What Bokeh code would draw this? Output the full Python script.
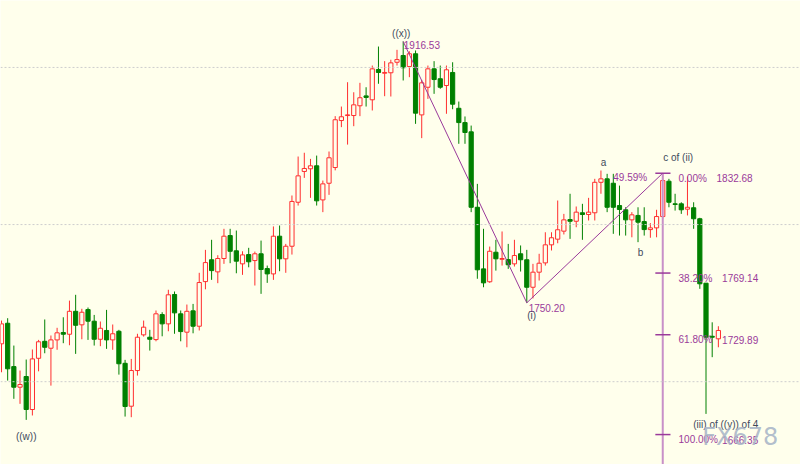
from bokeh.plotting import figure
from bokeh.models import Range1d, Span, ColumnDataSource
from bokeh.embed import file_html
from bokeh.resources import INLINE
from bokeh.core.properties import value

# Daily OHLC prices, oldest first
opens = [1724.1, 1737.2, 1709.6, 1696.5, 1703.3, 1682.3, 1714.9, 1725.7, 1721.3, 1726.6,
         1731.3, 1730.2, 1744.8, 1736.2, 1745.9, 1738.5, 1727.0, 1732.6, 1726.6, 1732.1,
         1711.7, 1684.4, 1707.1, 1729.8, 1728.3, 1726.8, 1742.7, 1736.8, 1755.5, 1743.2,
         1731.5, 1745.1, 1735.3, 1763.7, 1777.6, 1769.9, 1778.4, 1793.0, 1783.3, 1775.0,
         1780.9, 1777.1, 1781.4, 1772.0, 1768.6, 1792.6, 1778.2, 1786.2, 1814.2, 1833.8,
         1835.5, 1837.4, 1815.7, 1826.3, 1836.3, 1866.2, 1869.4, 1869.4, 1875.6, 1881.9,
         1879.4, 1898.7, 1896.3, 1896.6, 1903.3, 1907.6, 1900.6, 1908.7, 1869.8, 1887.4,
         1899.1, 1892.8, 1888.5, 1896.8, 1874.0, 1864.9, 1859.0, 1811.0, 1771.8, 1763.6,
         1782.4, 1777.9, 1777.7, 1775.0, 1781.4, 1777.6, 1760.1, 1769.7, 1775.6, 1787.1,
         1790.7, 1795.8, 1803.2, 1802.1, 1807.5, 1806.4, 1807.5, 1826.9, 1829.1, 1826.3,
         1812.1, 1809.4, 1803.0, 1805.8, 1801.9, 1796.8, 1797.9, 1805.1, 1827.6, 1813.2,
         1813.2, 1809.8, 1810.7, 1803.7, 1762.7, 1728.9, 1727.3]
highs = [1738.9, 1740.4, 1723.0, 1707.1, 1714.1, 1720.5, 1726.6, 1739.6, 1729.4, 1734.3,
         1741.0, 1751.6, 1755.3, 1746.4, 1747.2, 1742.5, 1738.3, 1745.7, 1736.4, 1733.0,
         1713.9, 1714.5, 1730.5, 1738.9, 1733.0, 1745.3, 1744.2, 1758.5, 1757.4, 1745.3,
         1749.1, 1749.5, 1769.3, 1783.9, 1790.3, 1780.5, 1797.3, 1797.3, 1796.2, 1783.0,
         1785.2, 1782.8, 1789.8, 1773.9, 1798.8, 1799.4, 1787.7, 1818.5, 1843.3, 1845.7,
         1841.8, 1843.9, 1828.0, 1846.5, 1869.0, 1875.1, 1890.6, 1884.2, 1890.2, 1887.4,
         1901.2, 1913.3, 1904.0, 1904.9, 1911.2, 1916.53, 1910.3, 1910.8, 1892.1, 1901.2,
         1904.0, 1901.2, 1901.2, 1903.3, 1878.3, 1868.8, 1863.0, 1825.9, 1797.3, 1786.0,
         1790.3, 1795.6, 1787.7, 1790.3, 1786.7, 1783.9, 1775.0, 1781.4, 1795.1, 1795.1,
         1815.3, 1806.8, 1819.6, 1811.5, 1813.2, 1817.0, 1829.1, 1834.4, 1832.3, 1832.3,
         1824.8, 1811.0, 1807.9, 1811.0, 1811.0, 1800.9, 1809.4, 1832.68, 1829.1, 1819.6,
         1814.2, 1830.6, 1814.2, 1804.3, 1762.7, 1737.8, 1735.3]
lows = [1706.0, 1700.7, 1689.1, 1685.9, 1675.7, 1678.5, 1706.6, 1718.1, 1697.5, 1720.3,
        1724.5, 1723.2, 1717.7, 1727.0, 1726.6, 1723.0, 1722.6, 1720.9, 1720.3, 1704.5,
        1677.8, 1677.4, 1703.9, 1728.7, 1719.8, 1725.7, 1728.9, 1732.1, 1730.5, 1725.7,
        1721.9, 1730.8, 1732.6, 1758.8, 1764.8, 1762.7, 1775.0, 1775.4, 1769.0, 1768.0,
        1772.8, 1761.2, 1755.9, 1762.9, 1764.8, 1770.3, 1769.3, 1780.9, 1812.1, 1829.7,
        1817.0, 1812.1, 1807.9, 1818.9, 1834.5, 1862.0, 1850.9, 1862.6, 1869.0, 1875.1,
        1872.6, 1889.6, 1881.7, 1881.5, 1901.2, 1891.7, 1893.8, 1864.1, 1855.0, 1880.0,
        1883.2, 1886.4, 1870.5, 1873.4, 1851.4, 1851.4, 1807.9, 1765.5, 1760.1, 1762.9,
        1770.7, 1773.9, 1771.8, 1773.3, 1770.1, 1750.20, 1753.0, 1764.4, 1773.9, 1783.5,
        1788.1, 1793.7, 1790.9, 1798.3, 1790.3, 1802.6, 1802.6, 1819.6, 1807.9, 1794.1,
        1793.0, 1793.0, 1791.9, 1788.8, 1793.0, 1791.6, 1791.9, 1803.7, 1811.0, 1808.9,
        1806.8, 1805.8, 1797.3, 1759.1, 1679.5, 1715.6, 1721.9]
closes = [1736.8, 1708.2, 1696.5, 1698.2, 1682.3, 1714.5, 1725.4, 1721.9, 1726.6, 1731.1,
          1730.2, 1744.8, 1735.9, 1744.2, 1738.5, 1727.0, 1734.0, 1726.6, 1730.5, 1711.4,
          1684.2, 1707.1, 1728.3, 1734.7, 1727.0, 1743.2, 1736.8, 1755.3, 1743.8, 1731.9,
          1744.8, 1735.3, 1763.1, 1775.8, 1770.7, 1778.4, 1792.6, 1783.0, 1776.7, 1780.7,
          1776.3, 1781.4, 1771.4, 1768.6, 1792.6, 1778.2, 1786.2, 1814.7, 1831.0, 1835.7,
          1837.4, 1815.1, 1825.9, 1842.5, 1866.7, 1868.6, 1869.8, 1876.2, 1880.7, 1880.9,
          1899.1, 1896.8, 1896.8, 1902.9, 1905.0, 1899.8, 1908.7, 1870.9, 1890.2, 1899.1,
          1892.3, 1887.4, 1898.5, 1876.6, 1864.9, 1858.6, 1811.0, 1771.2, 1762.9, 1783.0,
          1778.2, 1778.4, 1774.4, 1780.3, 1777.6, 1760.1, 1769.7, 1775.4, 1787.1, 1791.6,
          1796.7, 1803.0, 1802.1, 1807.9, 1806.4, 1807.9, 1826.9, 1829.1, 1811.0, 1811.0,
          1809.6, 1803.0, 1806.2, 1801.5, 1796.8, 1797.9, 1805.1, 1828.0, 1814.2, 1812.8,
          1809.4, 1811.0, 1803.7, 1762.3, 1728.3, 1728.3, 1732.6]

# Swing points joined by the wave line: ((x)) top, (i) low, c of (ii) top
wave_bar = [65, 85, 107]
wave_price = [1916.53, 1750.20, 1832.68]

# Fibonacci retracement of the (ii) top
fib_pct = ["0.00%", "38.20%", "61.80%", "100.00%"]
fib_price = [1832.68, 1769.14, 1729.89, 1666.35]
fib_price_text = ["1832.68", "1769.14", "1729.89", "1666.35"]

grid_levels = [1700, 1800, 1900]

BG = "#FFFFEC"
UP = "#FF2E2E"
DOWN = "#008000"
PURPLE = "#9A3A9A"
FIB_LINE = "#C890C8"
WAVE_TXT = "#3E4A5C"
FONT = value("Liberation Sans")

n = len(opens)
bars = list(range(n))
is_up = [c >= o for o, c in zip(opens, closes)]

p = figure(width=800, height=464, output_backend="svg", toolbar_location=None,
           x_range=Range1d(-0.16, 129.29), y_range=Range1d(1647.3, 1942.6),
           x_axis_location=None, y_axis_location=None, min_border=0,
           background_fill_color=BG, border_fill_color=BG, outline_line_color=None)
p.grid.visible = False

for lvl in grid_levels:
    p.add_layout(Span(location=lvl, dimension="width", line_color="#CDCDCD",
                      line_dash="2 2", line_width=1))

# wicks
p.segment(x0=bars, y0=highs, x1=bars, y1=lows,
          line_color=[UP if u else DOWN for u in is_up], line_width=1)

up_src = ColumnDataSource(dict(
    x=[i for i in bars if is_up[i]],
    top=[closes[i] for i in bars if is_up[i]],
    bottom=[opens[i] for i in bars if is_up[i]]))
dn_src = ColumnDataSource(dict(
    x=[i for i in bars if not is_up[i]],
    top=[opens[i] for i in bars if not is_up[i]],
    bottom=[closes[i] for i in bars if not is_up[i]]))

p.vbar(x="x", top="top", bottom="bottom", width=0.68, source=up_src,
       fill_color=BG, line_color=UP, line_width=1)
p.vbar(x="x", top="top", bottom="bottom", width=0.68, source=dn_src,
       fill_color=DOWN, line_color=DOWN, line_width=1)

# wave line
p.line(wave_bar, wave_price, line_color=PURPLE, line_width=1)

# Fibonacci staff and level ticks
fib_bar = wave_bar[2]
p.segment(x0=[fib_bar], y0=[fib_price[0]], x1=[fib_bar], y1=[1600],
          line_color=FIB_LINE, line_width=2)
p.segment(x0=[fib_bar - 1.2] * 4, x1=[fib_bar + 1.25] * 4, y0=fib_price, y1=fib_price,
          line_color=PURPLE, line_width=1.5)

p.text(x=[109.55] * 4, y=fib_price, text=fib_pct, text_font=FONT,
       text_font_size="10px", text_color=PURPLE, text_baseline="middle",
       text_align="left", y_offset=5)
p.text(x=[115.7, 116.6, 116.6, 116.6], y=fib_price, text=fib_price_text, text_font=FONT,
       text_font_size="10px", text_color=PURPLE, text_baseline="middle",
       text_align="left", y_offset=5)

# price notes at the swings
p.text(x=[65.1, 85.3, 99.0], y=[1914.0, 1747.0, 1829.7],
       text=["1916.53", "1750.20", "49.59%"], text_font=FONT, text_font_size="10px",
       text_color=PURPLE, text_baseline="middle", text_align="left")

# wave counts
p.text(x=[64.68, 4.0, 97.4, 103.4, 109.5, 85.8, 117.2],
       y=[1921.8, 1665.1, 1839.5, 1782.0, 1842.9, 1742.1, 1672.7],
       text=["((x))", "((w))", "a", "b", "c of (ii)", "(i)", "(iii) of ((y)) of 4"],
       text_font=FONT, text_font_size="10px", text_color=WAVE_TXT,
       text_baseline="middle", text_align="center")

# watermark
p.text(x=[113.4], y=[1665.0], text=["FX678"], text_font=value("DejaVu Sans"),
       text_font_size="24px", text_color="#A9B6C8", text_alpha=0.9,
       text_baseline="middle", text_align="left")

open("out.html", "w").write(file_html(p, INLINE))
